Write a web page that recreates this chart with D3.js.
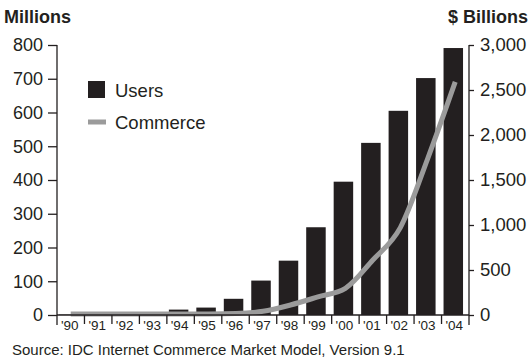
<!DOCTYPE html>
<html>
<head>
<meta charset="utf-8">
<script src="https://cdn.jsdelivr.net/npm/d3@7"></script>
<style>
  html, body { margin: 0; padding: 0; background: #fff; }
  svg { display: block; font-family: "Liberation Sans", Arial, Helvetica, sans-serif; }
</style>
</head>
<body>
<svg id="chart" width="531" height="361"></svg>
<script>
// Internet users (millions) and internet commerce ($ billions), 1990–2004
const years = ["'90", "'91", "'92", "'93", "'94", "'95", "'96", "'97", "'98", "'99", "'00", "'01", "'02", "'03", "'04"];
const users = [1, 2, 3, 5, 16, 22, 48, 102, 161, 260, 395, 510, 605, 702, 791];
const commerce = [0, 0, 0, 0, 0, 1, 5, 30, 100, 190, 285, 600, 960, 1730, 2580];
const leftTicks = [0, 100, 200, 300, 400, 500, 600, 700, 800];
const rightTicks = [0, 500, 1000, 1500, 2000, 2500, 3000];
const legendItems = ["Users", "Commerce"];
const sourceNote = "Source: IDC Internet Commerce Market Model, Version 9.1";

const ink = "#231f20";
const grey = "#9b9b9b";

const svg = d3.select("#chart");
const plotLeft = 57, plotRight = 469, plotTop = 45, base = 315;

const x = d3.scaleBand().domain(years).range([plotLeft, plotRight]).padding(0);
const yL = d3.scaleLinear().domain([0, 800]).range([base, plotTop]);
const yR = d3.scaleLinear().domain([0, 3000]).range([base, plotTop]);

// Bars: users
svg.append("g").selectAll("rect")
  .data(years.map((y, i) => ({ y, v: users[i] })))
  .join("rect")
  .attr("x", d => x(d.y) + 2)
  .attr("width", x.bandwidth() * 0.71)
  .attr("y", d => yL(d.v))
  .attr("height", d => base - yL(d.v))
  .attr("fill", ink);

// Line: commerce
const line = d3.line()
  .x((d, i) => x(years[i]) + x.bandwidth() / 2)
  .y(d => yR(d) - 1)
  .curve(d3.curveMonotoneX);
svg.append("path")
  .datum(commerce)
  .attr("d", line)
  .attr("fill", "none")
  .attr("stroke", grey)
  .attr("stroke-width", 5);

// Left axis
const axL = svg.append("g").attr("transform", `translate(${plotLeft},0)`)
  .call(d3.axisLeft(yL).tickValues(leftTicks).tickSize(9).tickPadding(5).tickSizeOuter(0));
axL.select(".domain").remove();
axL.selectAll("text").attr("font-size", 18).attr("fill", ink).attr("font-family", null);
axL.selectAll("line").attr("stroke", ink).attr("stroke-width", 1.3);

// Right axis
const axR = svg.append("g").attr("transform", `translate(${plotRight},0)`)
  .call(d3.axisRight(yR).tickValues(rightTicks).tickSize(5).tickPadding(6).tickSizeOuter(0)
    .tickFormat(d3.format(",")));
axR.select(".domain").remove();
axR.selectAll("text").attr("font-size", 18.5).attr("fill", ink).attr("font-family", null);
axR.selectAll("line").attr("stroke", ink).attr("stroke-width", 1.3);

// Axis frame: verticals run slightly below the baseline
const frame = svg.append("g").attr("stroke", ink).attr("stroke-width", 1.3);
frame.append("line").attr("x1", plotLeft).attr("x2", plotLeft).attr("y1", plotTop).attr("y2", base + 10);
frame.append("line").attr("x1", plotRight).attr("x2", plotRight).attr("y1", plotTop).attr("y2", base + 10);
frame.append("line").attr("x1", plotLeft).attr("x2", plotRight).attr("y1", base).attr("y2", base);

// Category separators and labels
svg.append("g").selectAll("line")
  .data(years.slice(1))
  .join("line")
  .attr("x1", d => x(d)).attr("x2", d => x(d))
  .attr("y1", base).attr("y2", base + 9)
  .attr("stroke", ink).attr("stroke-width", 1.3);

svg.append("g").selectAll("text")
  .data(years)
  .join("text")
  .attr("x", d => x(d) + x.bandwidth() / 2 - 1)
  .attr("y", base + 15)
  .attr("text-anchor", "middle")
  .attr("font-size", 13.5)
  .attr("fill", ink)
  .text(d => d);

// Axis titles
svg.append("text").attr("x", 4).attr("y", 23)
  .attr("font-size", 18).attr("font-weight", "bold").attr("fill", ink).text("Millions");
svg.append("text").attr("x", 528).attr("y", 23).attr("text-anchor", "end")
  .attr("font-size", 18).attr("font-weight", "bold").attr("fill", ink).text("$ Billions");

// Legend
const lg = svg.append("g");
lg.append("rect").attr("x", 88).attr("y", 81).attr("width", 17).attr("height", 17).attr("fill", ink);
lg.append("line").attr("x1", 88).attr("x2", 106).attr("y1", 122).attr("y2", 122)
  .attr("stroke", grey).attr("stroke-width", 5);
lg.selectAll("text")
  .data(legendItems)
  .join("text")
  .attr("x", 115)
  .attr("y", (d, i) => 97 + i * 32)
  .attr("font-size", 18.5)
  .attr("fill", ink)
  .text(d => d);

// Source note
svg.append("text").attr("x", 12).attr("y", 355)
  .attr("font-size", 15).attr("fill", ink).text(sourceNote);
</script>
</body>
</html>
